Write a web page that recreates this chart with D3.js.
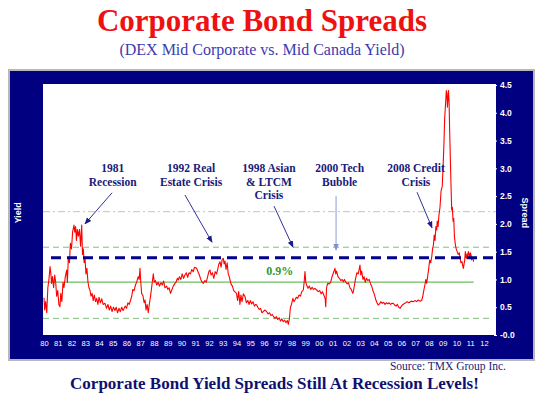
<!DOCTYPE html>
<html>
<head>
<meta charset="utf-8">
<script src="https://cdn.jsdelivr.net/npm/d3@7"></script>
<style>
  body { margin: 0; background: #fff; }
  svg { display: block; }
</style>
</head>
<body>
<div id="chart"></div>
<script>
// spread series (decimal year, spread in %)
const dates = [
  1980.00,1980.05,1980.12,1980.20,1980.28,1980.36,1980.44,1980.50,1980.55,1980.62,1980.70,1980.78,1980.85,1980.92,
  1981.00,1981.08,1981.16,1981.22,1981.30,1981.38,1981.45,1981.55,1981.65,1981.70,1981.77,1981.85,1981.92,
  1982.00,1982.08,1982.18,1982.24,1982.30,1982.36,1982.42,1982.50,1982.58,1982.66,1982.74,1982.80,1982.86,1982.92,1982.98,
  1983.05,1983.12,1983.20,1983.27,1983.35,1983.42,1983.50,1983.58,1983.66,1983.75,1983.83,1983.92,
  1984.00,1984.10,1984.20,1984.30,1984.44,1984.55,1984.65,1984.75,1984.85,1984.95,
  1985.05,1985.16,1985.25,1985.35,1985.45,1985.55,1985.65,1985.75,1985.90,
  1986.00,1986.10,1986.20,1986.30,1986.38,1986.46,1986.55,1986.65,1986.74,1986.85,1986.92,1986.98,
  1987.04,1987.10,1987.20,1987.28,1987.35,1987.42,1987.50,1987.58,1987.66,1987.75,1987.85,1987.95,
  1988.02,1988.10,1988.20,1988.30,1988.40,1988.50,1988.60,1988.70,1988.80,1988.92,
  1989.00,1989.10,1989.20,1989.28,1989.40,1989.50,1989.60,1989.70,1989.77,1989.85,1989.95,
  1990.05,1990.15,1990.25,1990.35,1990.45,1990.55,1990.65,1990.75,1990.85,1990.95,
  1991.10,1991.20,1991.30,1991.40,1991.50,1991.59,1991.70,1991.80,1991.90,
  1992.00,1992.07,1992.15,1992.25,1992.35,1992.45,1992.55,1992.65,1992.72,1992.80,1992.88,1992.96,
  1993.04,1993.10,1993.16,1993.24,1993.32,1993.40,1993.47,1993.53,1993.60,1993.70,1993.80,
  1994.00,1994.08,1994.16,1994.25,1994.32,1994.40,1994.50,1994.62,1994.72,1994.82,1994.92,
  1995.00,1995.10,1995.20,1995.30,1995.40,1995.47,1995.55,1995.65,1995.75,1995.85,1995.95,
  1996.05,1996.20,1996.30,1996.40,1996.50,1996.60,1996.70,1996.80,1996.90,
  1997.00,1997.10,1997.20,1997.30,1997.40,1997.50,1997.60,1997.70,1997.77,1997.85,1997.92,
  1998.00,1998.10,1998.18,1998.25,1998.35,1998.45,1998.55,1998.65,1998.75,1998.86,1998.92,1998.98,
  1999.04,1999.10,1999.20,1999.30,1999.40,1999.50,1999.60,1999.70,1999.83,1999.95,
  2000.05,2000.15,2000.25,2000.35,2000.45,2000.49,2000.55,2000.63,2000.75,2000.85,2000.95,
  2001.05,2001.16,2001.22,2001.28,2001.38,2001.48,2001.58,2001.68,2001.77,2001.85,2001.95,
  2002.05,2002.15,2002.25,2002.35,2002.45,2002.50,2002.58,2002.65,2002.75,2002.85,2002.92,2002.98,
  2003.04,2003.10,2003.20,2003.28,2003.36,2003.45,2003.55,2003.65,2003.75,2003.83,2003.92,
  2004.00,2004.07,2004.15,2004.22,2004.30,2004.40,2004.50,2004.60,2004.70,2004.80,2004.90,
  2005.00,2005.10,2005.20,2005.30,2005.40,2005.50,2005.60,2005.70,2005.80,2005.90,
  2006.00,2006.10,2006.25,2006.40,2006.55,2006.70,2006.85,
  2007.00,2007.10,2007.22,2007.35,2007.47,2007.55,2007.62,2007.70,2007.77,2007.83,2007.90,2007.98,
  2008.05,2008.12,2008.20,2008.26,2008.32,2008.38,2008.44,2008.50,2008.56,2008.60,2008.66,2008.72,2008.80,2008.88,2008.96,
  2009.02,2009.08,2009.14,2009.20,2009.26,2009.30,2009.34,2009.38,2009.42,2009.46,2009.50,2009.55,2009.60,2009.65,2009.70,2009.75,2009.80,2009.85,2009.92,2009.98,
  2010.05,2010.12,2010.20,2010.25,2010.32,2010.40,2010.45,2010.50,2010.55,2010.60,2010.64,2010.67,2010.72,2010.76,2010.82,2010.86,2010.92,2010.96,
  2011.00,2011.06,2011.10,2011.15,2011.20,2011.24
];
const spreads = [
  0.67,0.45,0.60,0.40,0.85,1.00,1.23,1.10,0.93,1.05,0.85,1.08,0.95,0.70,
  0.80,0.55,0.51,0.75,0.60,0.95,0.85,1.05,1.17,0.95,1.40,1.30,1.65,
  1.55,1.85,1.98,1.85,1.95,1.70,1.90,1.78,1.90,1.60,1.98,1.45,1.55,1.30,1.40,
  1.10,1.20,0.95,0.85,0.80,0.70,0.75,0.62,0.72,0.60,0.66,0.55,
  0.68,0.58,0.65,0.55,0.57,0.48,0.55,0.45,0.52,0.42,
  0.50,0.44,0.50,0.40,0.48,0.42,0.50,0.44,0.52,
  0.48,0.58,0.55,0.63,0.70,0.82,0.80,0.90,0.95,1.05,1.00,1.20,
  0.95,0.75,0.70,0.58,0.63,0.45,0.55,0.40,0.55,0.70,0.90,1.10,
  0.95,0.98,0.90,0.95,0.88,0.94,0.90,0.97,0.85,0.88,
  0.82,0.85,0.75,0.80,0.88,0.92,0.95,1.02,0.99,1.05,1.00,
  1.10,1.02,1.08,1.12,1.04,1.12,1.10,1.18,1.14,1.22,
  1.20,1.14,1.08,1.00,0.95,0.93,0.98,0.95,1.05,
  1.15,1.17,1.08,1.12,1.02,1.14,1.10,1.20,1.28,1.32,1.22,1.36,
  1.38,1.28,1.33,1.18,1.30,1.10,1.05,0.99,0.92,0.88,0.80,
  0.75,0.62,0.78,0.55,0.72,0.60,0.74,0.69,0.58,0.62,0.55,
  0.62,0.56,0.60,0.52,0.55,0.54,0.50,0.46,0.48,0.40,0.42,
  0.45,0.42,0.38,0.40,0.35,0.37,0.33,0.30,0.33,
  0.28,0.31,0.25,0.29,0.24,0.27,0.22,0.26,0.19,0.30,0.50,
  0.55,0.66,0.60,0.63,0.68,0.66,0.72,0.70,0.78,0.81,0.95,1.14,
  0.95,0.90,0.84,0.88,0.82,0.86,0.82,0.84,0.81,0.78,
  0.80,0.74,0.78,0.72,0.65,0.51,0.85,0.93,0.92,0.95,1.05,
  1.12,1.20,1.10,1.15,1.05,1.02,0.98,1.00,0.96,1.00,0.95,
  0.92,0.94,0.85,0.82,0.75,0.78,0.90,1.00,1.12,1.10,1.18,1.26,
  1.08,1.15,1.00,1.05,0.95,1.02,0.98,1.00,0.92,0.88,0.80,
  0.75,0.69,0.62,0.58,0.54,0.56,0.60,0.57,0.59,0.55,0.58,
  0.56,0.58,0.55,0.57,0.57,0.54,0.52,0.55,0.50,0.48,
  0.52,0.55,0.57,0.60,0.58,0.61,0.60,
  0.62,0.60,0.63,0.61,0.62,0.70,0.80,0.90,1.00,0.93,1.05,1.20,
  1.35,1.30,1.41,1.55,1.62,1.80,1.70,1.95,1.89,2.05,1.95,2.15,2.30,2.60,2.67,
  3.00,3.40,3.90,4.15,4.40,4.35,4.10,4.25,4.40,4.20,3.70,3.20,2.70,2.25,2.30,2.05,2.10,1.77,1.62,1.55,
  1.50,1.45,1.48,1.41,1.30,1.32,1.25,1.20,1.28,1.35,1.50,1.41,1.38,1.46,1.40,1.50,1.45,1.38,
  1.48,1.44,1.35,1.40,1.38,1.32
];

// axis ticks
const xTickYears = [1980,1981,1982,1983,1984,1985,1986,1987,1988,1989,1990,1991,1992,1993,1994,1995,1996,
  1997,1998,1999,2000,2001,2002,2003,2004,2005,2006,2007,2008,2009,2010,2011,2012];
const xTickLabels = ['80','81','82','83','84','85','86','87','88','89','90','91','92','93','94','95','96',
  '97','98','99','00','01','02','03','04','05','06','07','08','09','10','11','12'];
const yTicks = [0,0.5,1,1.5,2,2.5,3,3.5,4,4.5];
const yTickLabels = ['-0.0','0.5','1.0','1.5','2.0','2.5','3.0','3.5','4.0','4.5'];

// reference levels: mean, +/-1 sd, +2 sd, current
const meanLevel = 0.95;
const sdLevels = [0.30, 1.58];
const twoSdLevel = 2.22;
const currentLevel = 1.39;

// annotations: text anchor (year, spread) and arrow from/to (year, spread)
const annotations = [
  {lines: ['1981', 'Recession'], tx: 1985.0, ty: 2.93, from: [1984.95, 2.56], to: [1982.98, 2.00], color: '#1a1a8a'},
  {lines: ['1992 Real', 'Estate Crisis'], tx: 1990.7, ty: 2.93, from: [1990.25, 2.52], to: [1992.22, 1.67], color: '#1a1a8a'},
  {lines: ['1998 Asian', '& LTCM', 'Crisis'], tx: 1996.36, ty: 2.93, from: [1996.73, 2.32], to: [1998.11, 1.58], color: '#1a1a8a'},
  {lines: ['2000 Tech', 'Bubble'], tx: 2001.5, ty: 2.93, from: [2001.24, 2.50], to: [2001.24, 1.53], color: '#7f8fd6'},
  {lines: ['2008 Credit', 'Crisis'], tx: 2007.05, ty: 2.93, from: [2007.13, 2.57], to: [2008.22, 1.93], color: '#1a1a8a'}
];

const W = 547, H = 399;
const plot = {left: 43, top: 84, right: 496, bottom: 335};
const navy = '#000080';
const serif = '"Liberation Serif", "Times New Roman", serif';
const sans = '"Liberation Sans", Arial, sans-serif';

const svg = d3.select('#chart').append('svg')
    .attr('width', W)
    .attr('height', H);

const defs = svg.append('defs');
['#1a1a8a', '#7f8fd6'].forEach((c, i) => {
  defs.append('marker')
      .attr('id', 'arrow' + i)
      .attr('viewBox', '0 0 10 10')
      .attr('refX', 9).attr('refY', 5)
      .attr('markerWidth', 7).attr('markerHeight', 7)
      .attr('markerUnits', 'userSpaceOnUse')
      .attr('orient', 'auto')
    .append('path')
      .attr('d', 'M0,1 L10,5 L0,9 Z')
      .attr('fill', c);
});

// titles
svg.append('text')
    .attr('x', 262).attr('y', 31)
    .attr('text-anchor', 'middle')
    .attr('font-family', serif)
    .attr('font-weight', 'bold')
    .attr('font-size', 31)
    .attr('fill', '#ee1111')
    .text('Corporate Bond Spreads');

svg.append('text')
    .attr('x', 262).attr('y', 55)
    .attr('text-anchor', 'middle')
    .attr('font-family', serif)
    .attr('font-size', 16)
    .attr('fill', '#3b3bb0')
    .text('(DEX Mid Corporate vs. Mid Canada Yield)');

// navy frame
svg.append('rect')
    .attr('x', 9).attr('y', 70)
    .attr('width', 525).attr('height', 290)
    .attr('fill', navy)
    .attr('stroke', '#b8b8b8')
    .attr('stroke-width', 2);

svg.append('rect')
    .attr('x', plot.left).attr('y', plot.top)
    .attr('width', plot.right - plot.left)
    .attr('height', plot.bottom - plot.top)
    .attr('fill', '#fff');

const x = d3.scaleLinear()
    .domain([1980, 2012])
    .range([44, 484]);

const y = d3.scaleLinear()
    .domain([0, 4.5])
    .range([plot.bottom, 85]);

const g = svg.append('g');

// reference lines
g.append('line')
    .attr('x1', plot.left).attr('x2', plot.right)
    .attr('y1', y(twoSdLevel)).attr('y2', y(twoSdLevel))
    .attr('stroke', '#a9d6a0').attr('stroke-width', 1)
    .attr('stroke-dasharray', '7,3,2,3');

g.selectAll('.sd')
    .data(sdLevels)
  .enter().append('line')
    .attr('class', 'sd')
    .attr('x1', plot.left).attr('x2', plot.right - 3)
    .attr('y1', d => y(d)).attr('y2', d => y(d))
    .attr('stroke', '#7fc07a').attr('stroke-width', 1)
    .attr('stroke-dasharray', '6,4');

g.append('line')
    .attr('x1', plot.left).attr('x2', x(2011.25))
    .attr('y1', y(meanLevel)).attr('y2', y(meanLevel))
    .attr('stroke', '#6cbf62').attr('stroke-width', 1.2);

g.append('text')
    .attr('x', x(1997.15)).attr('y', y(meanLevel) - 7)
    .attr('text-anchor', 'middle')
    .attr('font-family', serif)
    .attr('font-weight', 'bold')
    .attr('font-size', 12)
    .attr('fill', '#2f9a2f')
    .text('0.9%');

// spread line
const series = dates.map((d, i) => ({t: d, v: spreads[i]}));
const line = d3.line()
    .x(d => x(d.t))
    .y(d => y(d.v));

g.append('path')
    .datum(series)
    .attr('fill', 'none')
    .attr('stroke', '#ff0000')
    .attr('stroke-width', 1.1)
    .attr('stroke-linejoin', 'round')
    .attr('d', line);

// current level
g.append('line')
    .attr('x1', 51).attr('x2', 493)
    .attr('y1', y(currentLevel)).attr('y2', y(currentLevel))
    .attr('stroke', '#00008b').attr('stroke-width', 3)
    .attr('stroke-dasharray', '10,6');

// annotations
annotations.forEach(a => {
  const t = g.append('text')
      .attr('text-anchor', 'middle')
      .attr('font-family', serif)
      .attr('font-weight', 'bold')
      .attr('font-size', 11.5)
      .attr('fill', '#1a1a7a');
  a.lines.forEach((s, i) => {
    t.append('tspan')
        .attr('x', x(a.tx))
        .attr('y', y(a.ty) + i * 13.5)
        .text(s);
  });
  g.append('line')
      .attr('x1', x(a.from[0])).attr('y1', y(a.from[1]))
      .attr('x2', x(a.to[0])).attr('y2', y(a.to[1]))
      .attr('stroke', a.color).attr('stroke-width', 0.9)
      .attr('marker-end', a.color === '#7f8fd6' ? 'url(#arrow1)' : 'url(#arrow0)');
});

// x axis
const xAxis = d3.axisBottom(x)
    .tickValues(xTickYears)
    .tickFormat((d, i) => xTickLabels[i])
    .tickSize(0)
    .tickPadding(6);

const xg = svg.append('g')
    .attr('transform', `translate(0,${plot.bottom})`)
    .call(xAxis);
xg.select('.domain').remove();
xg.selectAll('text')
    .attr('fill', '#fff')
    .attr('font-family', sans)
    .attr('font-size', 7.5);

// right axis
const yAxis = d3.axisRight(y)
    .tickValues(yTicks)
    .tickFormat((d, i) => yTickLabels[i])
    .tickSize(3)
    .tickPadding(3);

const yg = svg.append('g')
    .attr('transform', `translate(${plot.right - 2},0)`)
    .call(yAxis);
yg.select('.domain').remove();
yg.selectAll('line').attr('stroke', '#fff');
yg.selectAll('text')
    .attr('fill', '#fff')
    .attr('font-family', sans)
    .attr('font-weight', 'bold')
    .attr('font-size', 8.5);

// axis titles
svg.append('text')
    .attr('transform', `translate(21,${y(2.2)}) rotate(-90)`)
    .attr('text-anchor', 'middle')
    .attr('font-family', sans)
    .attr('font-weight', 'bold')
    .attr('font-size', 9)
    .attr('fill', '#fff')
    .text('Yield');

svg.append('text')
    .attr('transform', `translate(522,${y(2.2)}) rotate(90)`)
    .attr('text-anchor', 'middle')
    .attr('font-family', sans)
    .attr('font-weight', 'bold')
    .attr('font-size', 9)
    .attr('fill', '#fff')
    .text('Spread');

// footer
svg.append('text')
    .attr('x', 506).attr('y', 370)
    .attr('text-anchor', 'end')
    .attr('font-family', serif)
    .attr('font-size', 11.5)
    .attr('fill', '#1a1a7a')
    .text('Source: TMX Group Inc.');

svg.append('text')
    .attr('x', 274.5).attr('y', 389)
    .attr('text-anchor', 'middle')
    .attr('font-family', serif)
    .attr('font-weight', 'bold')
    .attr('font-size', 17)
    .attr('fill', '#10106e')
    .text('Corporate Bond Yield Spreads Still At Recession Levels!');
</script>
</body>
</html>
